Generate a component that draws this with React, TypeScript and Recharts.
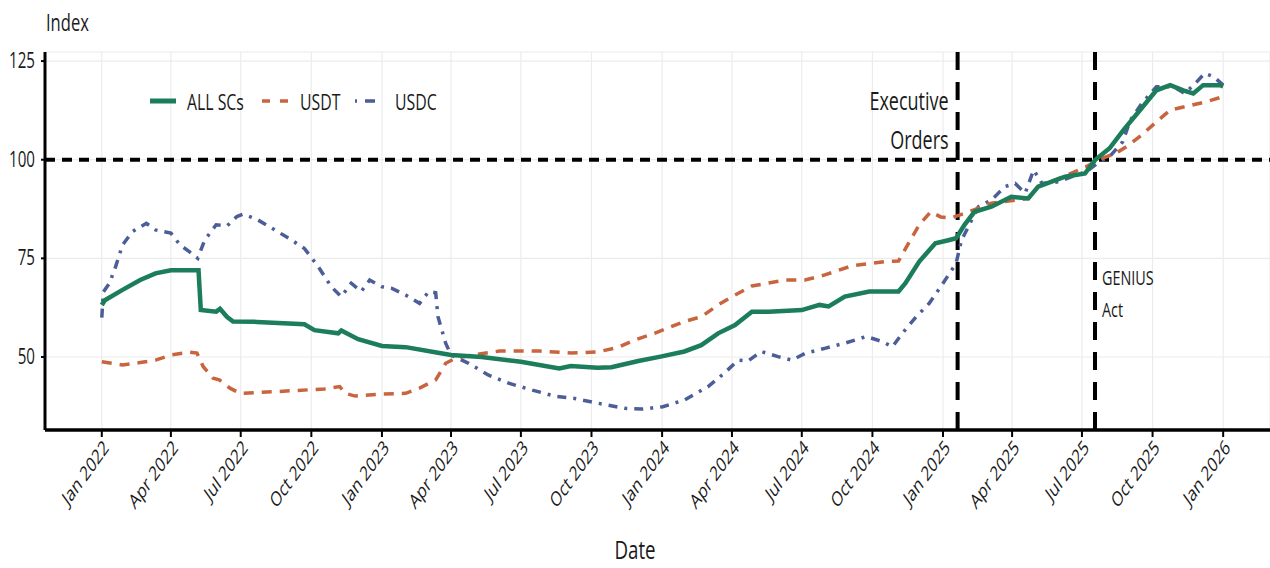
import React from "react";
import { LineChart, Line, XAxis, YAxis, CartesianGrid, ReferenceLine } from "recharts";

if (typeof document !== "undefined") document.body.style.margin = "0";

const FONT = "'Open Sans', 'Noto Sans', sans-serif";
const SX = 0.72; // the source figure is horizontally squeezed

// [date, index]
const allScs: [string, number][] = [
  ["2022-01-01", 63.2], ["2022-01-05", 64.4], ["2022-01-28", 67.0], ["2022-02-20", 69.5],
  ["2022-03-12", 71.2], ["2022-04-01", 72.0], ["2022-04-25", 72.0], ["2022-05-07", 72.0],
  ["2022-05-10", 61.9], ["2022-05-30", 61.5], ["2022-06-04", 62.2], ["2022-06-13", 60.2],
  ["2022-06-21", 59.0], ["2022-07-22", 58.9], ["2022-09-22", 58.3], ["2022-10-05", 56.8],
  ["2022-11-05", 56.0], ["2022-11-09", 56.7], ["2022-12-01", 54.5], ["2023-01-01", 52.8],
  ["2023-02-01", 52.5], ["2023-03-15", 51.1], ["2023-04-01", 50.5], ["2023-05-11", 50.0],
  ["2023-07-01", 48.8], ["2023-08-20", 47.1], ["2023-09-04", 47.7], ["2023-10-09", 47.3],
  ["2023-10-27", 47.4], ["2023-12-01", 49.0], ["2023-12-30", 50.1], ["2024-01-30", 51.4],
  ["2024-02-21", 53.0], ["2024-03-14", 56.0], ["2024-04-05", 58.1], ["2024-04-27", 61.5],
  ["2024-05-19", 61.5], ["2024-07-01", 61.9], ["2024-07-24", 63.2], ["2024-08-05", 62.8],
  ["2024-08-26", 65.3], ["2024-09-27", 66.6], ["2024-11-04", 66.6], ["2024-11-13", 68.7],
  ["2024-12-01", 74.2], ["2024-12-22", 78.8], ["2025-01-08", 79.6], ["2025-01-18", 80.1],
  ["2025-01-29", 83.5], ["2025-02-11", 86.8], ["2025-03-05", 88.1], ["2025-03-31", 90.6],
  ["2025-04-22", 90.2], ["2025-05-05", 93.2], ["2025-06-09", 95.7], ["2025-07-05", 96.5],
  ["2025-07-18", 99.9], ["2025-08-06", 102.9], ["2025-08-24", 107.5], ["2025-09-11", 111.7],
  ["2025-10-06", 117.6], ["2025-10-24", 118.9], ["2025-11-10", 117.6], ["2025-11-23", 116.8],
  ["2025-12-06", 118.9], ["2025-12-28", 118.9], ["2026-01-01", 118.6],
];

const usdt: [string, number][] = [
  ["2022-01-01", 48.8], ["2022-01-28", 48.0], ["2022-02-20", 48.6], ["2022-03-12", 49.2],
  ["2022-04-01", 50.5], ["2022-04-25", 51.2], ["2022-05-05", 51.0], ["2022-05-13", 47.6],
  ["2022-05-26", 44.6], ["2022-06-03", 44.2], ["2022-06-17", 42.1], ["2022-06-30", 40.8],
  ["2022-08-13", 41.2], ["2022-10-18", 41.9], ["2022-11-07", 42.5], ["2022-11-14", 40.8],
  ["2022-11-27", 40.1], ["2023-01-01", 40.6], ["2023-02-01", 40.8], ["2023-02-19", 42.1],
  ["2023-03-12", 44.2], ["2023-03-25", 48.4], ["2023-04-07", 49.7], ["2023-04-29", 50.5],
  ["2023-06-03", 51.5], ["2023-07-26", 51.5], ["2023-09-04", 51.0], ["2023-10-09", 51.3],
  ["2023-11-04", 52.4], ["2023-11-26", 54.3], ["2023-12-22", 56.0], ["2024-01-30", 59.0],
  ["2024-02-21", 60.2], ["2024-03-14", 63.2], ["2024-04-05", 65.7], ["2024-04-27", 68.0],
  ["2024-06-10", 69.5], ["2024-07-05", 69.5], ["2024-07-31", 70.8], ["2024-09-04", 73.1],
  ["2024-10-18", 74.2], ["2024-11-04", 74.3], ["2024-11-17", 78.8], ["2024-12-01", 83.5],
  ["2024-12-16", 86.8], ["2024-12-29", 85.5], ["2025-01-11", 85.2], ["2025-01-29", 86.4],
  ["2025-03-05", 89.0], ["2025-04-08", 89.8], ["2025-04-22", 90.2], ["2025-05-05", 93.2],
  ["2025-06-09", 95.9], ["2025-07-06", 98.2], ["2025-07-28", 100.4], ["2025-08-14", 101.6],
  ["2025-08-31", 103.7], ["2025-09-17", 106.3], ["2025-10-06", 109.6], ["2025-10-24", 112.6],
  ["2025-11-20", 113.8], ["2025-12-10", 114.7], ["2026-01-01", 116.0],
];

const usdc: [string, number][] = [
  ["2022-01-01", 60.0], ["2022-01-03", 66.5], ["2022-01-11", 68.7], ["2022-01-19", 72.9],
  ["2022-01-28", 78.4], ["2022-02-10", 81.8], ["2022-02-28", 83.9], ["2022-03-12", 82.2],
  ["2022-04-01", 81.4], ["2022-04-13", 78.4], ["2022-04-25", 76.7], ["2022-05-06", 75.0],
  ["2022-05-15", 79.6], ["2022-05-30", 83.5], ["2022-06-13", 83.2], ["2022-06-26", 85.6],
  ["2022-07-04", 86.2], ["2022-07-22", 84.9], ["2022-08-18", 81.8], ["2022-09-04", 79.8],
  ["2022-09-22", 77.5], ["2022-10-10", 72.9], ["2022-10-27", 67.8], ["2022-11-09", 65.3],
  ["2022-11-22", 68.7], ["2022-12-05", 66.6], ["2022-12-16", 69.5], ["2023-01-01", 67.8],
  ["2023-01-14", 67.4], ["2023-02-01", 65.7], ["2023-02-19", 63.6], ["2023-03-03", 66.6],
  ["2023-03-12", 66.3], ["2023-03-15", 60.2], ["2023-03-25", 53.5], ["2023-04-01", 50.5],
  ["2023-04-24", 48.4], ["2023-05-20", 45.4], ["2023-06-16", 43.3], ["2023-07-16", 41.6],
  ["2023-08-16", 40.0], ["2023-09-09", 39.5], ["2023-10-09", 38.3], ["2023-11-13", 37.0],
  ["2023-12-06", 36.8], ["2024-01-02", 37.4], ["2024-01-30", 39.1], ["2024-03-01", 42.5],
  ["2024-03-22", 45.9], ["2024-04-09", 49.2], ["2024-04-22", 49.0], ["2024-05-09", 51.4],
  ["2024-05-31", 50.1], ["2024-06-18", 49.2], ["2024-07-05", 50.9], ["2024-07-31", 52.2],
  ["2024-08-26", 53.5], ["2024-09-23", 55.2], ["2024-10-14", 53.9], ["2024-10-27", 52.6],
  ["2024-11-09", 56.0], ["2024-11-27", 60.2], ["2024-12-14", 63.6], ["2025-01-01", 68.7],
  ["2025-01-18", 73.7], ["2025-01-25", 79.6], ["2025-02-03", 83.0], ["2025-02-16", 88.1],
  ["2025-03-05", 89.8], ["2025-03-23", 93.2], ["2025-04-05", 94.0], ["2025-04-18", 91.5],
  ["2025-04-29", 97.4], ["2025-05-10", 94.0], ["2025-06-01", 94.4], ["2025-06-23", 96.1],
  ["2025-07-06", 96.9], ["2025-07-24", 99.5], ["2025-08-06", 100.8], ["2025-08-23", 104.5],
  ["2025-09-02", 110.0], ["2025-09-17", 114.3], ["2025-10-06", 118.5], ["2025-10-28", 118.5],
  ["2025-11-12", 116.8], ["2025-11-26", 119.4], ["2025-12-08", 121.9], ["2025-12-20", 121.0],
  ["2026-01-01", 118.9],
];

const xTickDates = [
  "2022-01-01", "2022-04-01", "2022-07-01", "2022-10-01",
  "2023-01-01", "2023-04-01", "2023-07-01", "2023-10-01",
  "2024-01-01", "2024-04-01", "2024-07-01", "2024-10-01",
  "2025-01-01", "2025-04-01", "2025-07-01", "2025-10-01", "2026-01-01",
];
const months = ["Jan", "Feb", "Mar", "Apr", "May", "Jun", "Jul", "Aug", "Sep", "Oct", "Nov", "Dec"];
const yTicks = [50, 75, 100, 125];
const executiveOrders = "2025-01-20";
const geniusAct = "2025-07-18";

const t = (d: string) => Date.parse(d + "T00:00:00Z");
const toRows = (arr: [string, number][]) => arr.map(([d, v]) => ({ date: t(d), value: v }));

const GREEN = "#1b7d5a";
const ORANGE = "#c8643e";
const BLUE = "#4c5e98";
const INK = "#1a1a1a";

function Sq({ x, y, size, anchor = "start", children, extra = "" }: any) {
  return (
    <text transform={`translate(${x},${y}) scale(${SX},1) ${extra}`} textAnchor={anchor}
      fontFamily={FONT} fontSize={size} fill={INK}>{children}</text>
  );
}

function XTick({ x, y, payload }: any) {
  const d = new Date(payload.value);
  const label = `${months[d.getUTCMonth()]} ${d.getUTCFullYear()}`;
  return <Sq x={x + 8} y={y + 10} size={20.5} anchor="end" extra="rotate(-45)">{label}</Sq>;
}

function YTick({ x, y, payload }: any) {
  return <Sq x={x} y={y + 7} size={21} anchor="end">{payload.value}</Sq>;
}

function Overlay() {
  const ly = 101;
  return (
    <svg width={1270} height={568} style={{ position: "absolute", left: 0, top: 0, pointerEvents: "none" }}>
      <Sq x={46} y={31} size={23}>Index</Sq>
      <Sq x={635} y={559} size={26} anchor="middle">Date</Sq>
      <line x1={150} y1={ly} x2={176} y2={ly} stroke={GREEN} strokeWidth={5} />
      <Sq x={187} y={ly + 9} size={22}>ALL SCs</Sq>
      <line x1={262} y1={ly} x2={288} y2={ly} stroke={ORANGE} strokeWidth={3.5} strokeDasharray="8 10" />
      <Sq x={300} y={ly + 9} size={22}>USDT</Sq>
      <line x1={355} y1={ly} x2={381} y2={ly} stroke={BLUE} strokeWidth={3.5} strokeDasharray="2 8 10 8" />
      <Sq x={395} y={ly + 9} size={22}>USDC</Sq>
    </svg>
  );
}

export default function App() {
  return (
    <div style={{ position: "relative", width: 1270, height: 568, background: "#fff" }}>
      <LineChart width={1270} height={568} margin={{ top: 52, right: 0, bottom: 0, left: 0 }}>
        <CartesianGrid stroke="#ececec" strokeWidth={1.2} />
        <XAxis type="number" dataKey="date" domain={[t("2021-10-19"), t("2026-03-03")]}
          ticks={xTickDates.map(t)} tick={<XTick />} height={138} interval={0}
          axisLine={{ stroke: "#000", strokeWidth: 3.5 }} tickLine={{ stroke: "#000", strokeWidth: 2 }} tickSize={7} allowDataOverflow />
        <YAxis type="number" domain={[31.5, 127.3]} ticks={yTicks} width={45} interval={0}
          tick={<YTick />}
          axisLine={{ stroke: "#000", strokeWidth: 3 }} tickLine={{ stroke: "#000", strokeWidth: 2 }} tickSize={4} tickMargin={6} allowDataOverflow />
        <ReferenceLine y={100} stroke="#000" strokeWidth={4} strokeDasharray="10 7" />
        <ReferenceLine x={t(executiveOrders)} stroke="#000" strokeWidth={4} strokeDasharray="18 12"
          label={({ viewBox }: any) => (
            <g>
              <Sq x={viewBox.x - 9} y={viewBox.y + 58} size={25} anchor="end">Executive</Sq>
              <Sq x={viewBox.x - 9} y={viewBox.y + 97} size={25} anchor="end">Orders</Sq>
            </g>
          )} />
        <ReferenceLine x={t(geniusAct)} stroke="#000" strokeWidth={4} strokeDasharray="18 12"
          label={({ viewBox }: any) => (
            <g>
              <Sq x={viewBox.x + 7} y={viewBox.y + 233} size={20}>GENIUS</Sq>
              <Sq x={viewBox.x + 7} y={viewBox.y + 265} size={20}>Act</Sq>
            </g>
          )} />
        <Line data={toRows(usdc)} dataKey="value" name="USDC" stroke={BLUE} strokeWidth={3.5}
          strokeDasharray="9 7 3 7" dot={false} isAnimationActive={false} />
        <Line data={toRows(usdt)} dataKey="value" name="USDT" stroke={ORANGE} strokeWidth={3.5}
          strokeDasharray="10 8" dot={false} isAnimationActive={false} />
        <Line data={toRows(allScs)} dataKey="value" name="ALL SCs" stroke={GREEN} strokeWidth={4.5}
          dot={false} isAnimationActive={false} />
      </LineChart>
      <Overlay />
    </div>
  );
}
